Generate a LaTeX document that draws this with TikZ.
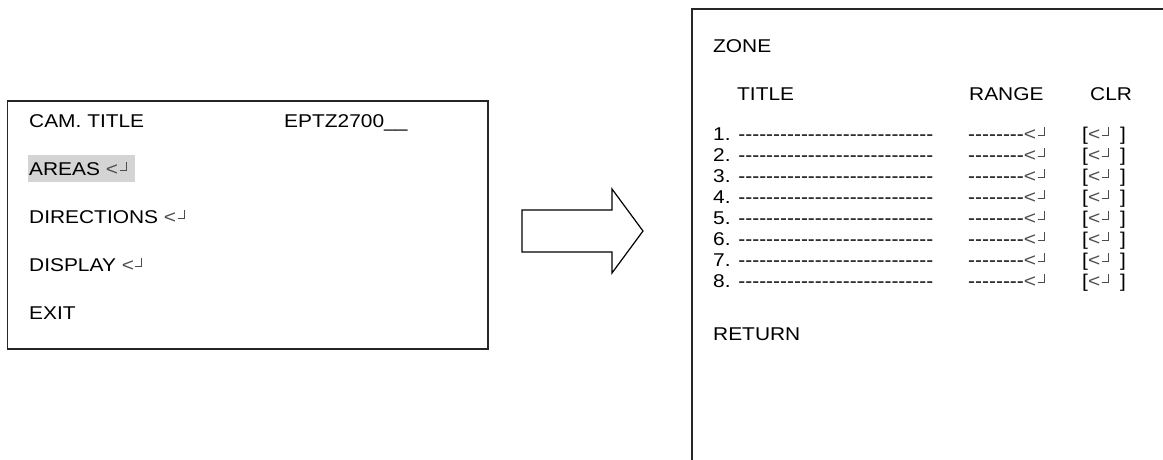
\documentclass[tikz,border=0pt]{standalone}
\usepackage{fontspec}
\setmainfont{Liberation Sans}[Ligatures=TeXOff, FakeStretch=1.13]
\newcommand\retk{{\color{black!70}<\kern1.5pt\rule[4pt]{6pt}{0.7pt}\rule[4pt]{0.7pt}{9.5pt}}}
\newcommand\dashrow{----------------------------}
\newcommand\dashshort{--------}
\begin{document}
\begin{tikzpicture}[x=1pt,y=-1pt]
\tikzset{
  txt/.style={anchor=base west, inner sep=0pt, font=\fontsize{18.5}{22}\selectfont},
  frame/.style={draw=black!85, line width=1.2pt},
  hl/.style={fill=black!17},
}
\useasboundingbox (0,0) rectangle (1163,459);
\clip (0,0) rectangle (1163,459);
% left menu box
\draw[frame] (7.5,101) rectangle (488,349);
\fill[hl] (28,155) rectangle (135,182);
\node[txt] (camtitle) at (29,127) {CAM. TITLE};
\node[txt] (camval) at (284,127) {EPTZ2700\_\_};
\node[txt] (areas) at (29,175) {AREAS \retk};
\node[txt] (directions) at (29,223) {DIRECTIONS \retk};
\node[txt] (display) at (29,271) {DISPLAY \retk};
\node[txt] (exit) at (29,319) {EXIT};
% big arrow
\draw[line width=1.2pt, line join=miter] (522,210) -- (612,210) -- (612,189) -- (643,231) -- (612,273) -- (612,252) -- (522,252) -- cycle;
% right zone box
\draw[frame] (1175,9) -- (692,9) -- (692,470);
\node[txt] (zone) at (713,52) {ZONE};
\node[txt] (htitle) at (737,100) {TITLE};
\node[txt] (hrange) at (969,100) {RANGE};
\node[txt] (hclr) at (1090,100) {CLR};
\foreach \i in {1,...,8}{
  \pgfmathsetmacro\yy{140+21*(\i-1)}
  \node[txt] (t\i) at (713,\yy) {\i. \dashrow};
  \node[txt] (r\i) at (968,\yy) {\dashshort\retk};
  \node[txt] (c\i) at (1082,\yy) {[\retk\ \kern6pt]};
}
\node[txt] (ret) at (713,340) {RETURN};
\end{tikzpicture}
\end{document}
